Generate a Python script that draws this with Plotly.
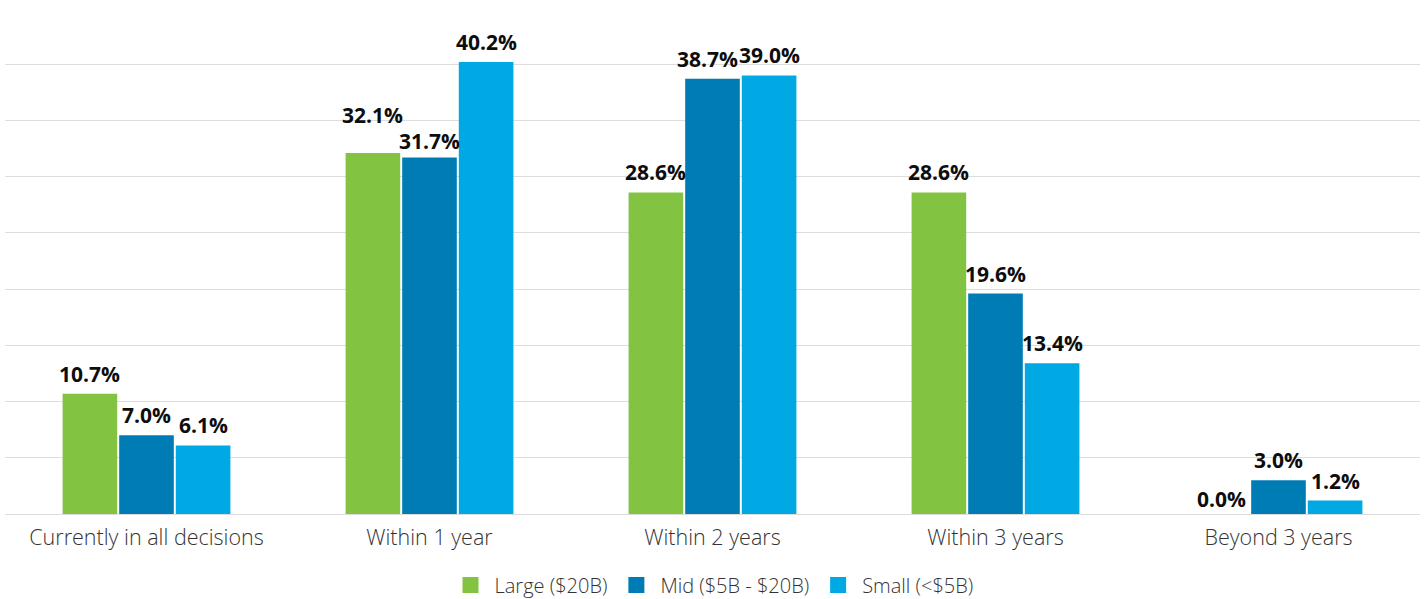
import plotly.graph_objects as go

categories = ["Currently in all decisions", "Within 1 year", "Within 2 years", "Within 3 years", "Beyond 3 years"]
series_names = ["Large ($20B)", "Mid ($5B - $20B)", "Small (<$5B)"]
large = [10.7, 32.1, 28.6, 28.6, 0.0]
mid = [7.0, 31.7, 38.7, 19.6, 3.0]
small = [6.1, 40.2, 39.0, 13.4, 1.2]
colors = ["#82C341", "#007CB5", "#00A8E4"]

# label pixel nudges (style only): (series index, category index) -> (dx, dy)
label_nudge = {(0, 1): (0, 18), (0, 4): (0, -5), (1, 2): (-5, 0), (1, 1): (0, -3)}

BARGAP = 0.4
PLOT_W = 1426 - 5 - 6
slot_px = PLOT_W / len(categories) * (1 - BARGAP) / 3

fig = go.Figure()
for s, (name, vals, col) in enumerate(zip(series_names, [large, mid, small], colors)):
    fig.add_trace(go.Bar(
        x=categories, y=vals, name=name, marker_color=col, marker_line_width=0,
        showlegend=False, hoverinfo="skip",
    ))
    for c, v in enumerate(vals):
        dx, dy = label_nudge.get((s, c), (0, 0))
        fig.add_annotation(
            x=categories[c], y=v, xref="x", yref="y", text=f"{v:.1f}%",
            showarrow=False, xanchor="center", yanchor="middle",
            xshift=(s - 1) * slot_px + dx, yshift=20 + dy,
            font=dict(family="Open Sans", size=21, color="#0d0d0d", weight="bold"),
        )
for name, col in zip(series_names, colors):
    fig.add_trace(go.Scatter(
        x=[None], y=[None], mode="markers", name=name,
        marker=dict(symbol="square", size=18, color=col),
    ))

fig.update_layout(
    width=1426, height=599,
    margin=dict(l=5, r=6, t=8, b=85),
    plot_bgcolor="white", paper_bgcolor="white",
    barmode="group", bargap=BARGAP, bargroupgap=0.035,
    font=dict(family="Open Sans", color="#333333"),
    legend=dict(orientation="h", x=0.5, xanchor="center", yref="container", y=14/599, yanchor="middle",
                font=dict(family="Open Sans", size=20, color="#333333", weight=300),
                itemwidth=38, traceorder="normal"),
    xaxis=dict(tickfont=dict(family="Open Sans", size=21.5, color="#333333", weight=300),
               showgrid=False, showline=False, ticks="", ticklabelstandoff=8),
    yaxis=dict(range=[0, 45], dtick=5, showticklabels=False, showgrid=True,
               gridcolor="#DDDDDD", gridwidth=1, zeroline=True, zerolinecolor="#DDDDDD",
               zerolinewidth=1, showline=False),
)
fig.write_html("out.html")
